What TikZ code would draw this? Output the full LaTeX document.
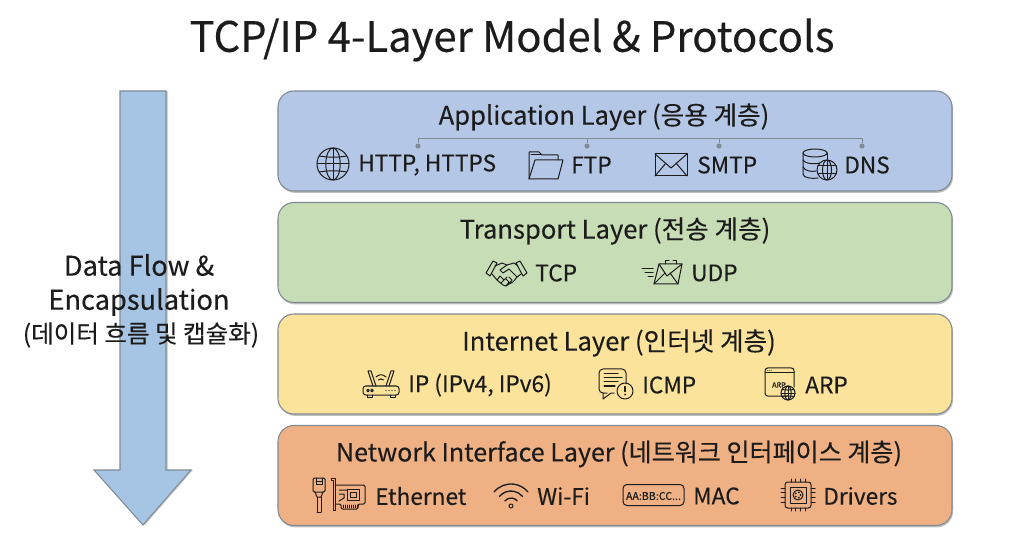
\documentclass[tikz,border=0pt]{standalone}
\usepackage{fontspec}
\setmainfont{Noto Sans CJK KR}[FakeBold=0.25]
\usetikzlibrary{shadows}
\definecolor{appcol}{HTML}{B5C7E6}
\definecolor{tracol}{HTML}{C6DDB5}
\definecolor{intcol}{HTML}{FCE39B}
\definecolor{netcol}{HTML}{EFB084}
\definecolor{flowcol}{HTML}{A6C5E5}
\definecolor{ink}{HTML}{1C1C1C}
\definecolor{rim}{HTML}{7F8A94}
\tikzset{
  layer/.style  = {rectangle, draw=rim, line width=0.8pt, rounded corners=12pt, minimum width=505.5pt, minimum height=75pt, drop shadow={shadow xshift=0.8pt, shadow yshift=-1.4pt, opacity=0.5}},
  lname/.style  = {font=\fontsize{19.2}{24}\selectfont, text=ink, inner sep=0},
  proto/.style  = {font=\fontsize{17}{21}\selectfont, text=ink, anchor=west, inner sep=0},
  flow/.style   = {font=\fontsize{20.4}{24}\selectfont, text=ink, inner sep=0},
  flowkr/.style = {font=\fontsize{18.4}{22}\selectfont, text=ink, inner sep=0},
  bus/.style    = {draw=rim, line width=0.7pt},
  tap/.style    = {circle, fill=rim, minimum size=3.8pt, inner sep=0},
  ico/.style    = {draw=ink, line width=0.75pt, line join=round, line cap=round},
  tiny/.style   = {font=\fontsize{5.5}{6}\selectfont, text=ink, inner sep=0},
  globe/.pic = {
    \draw[ico] (0,0) circle[radius=#1];
    \draw[ico] (0,0) ellipse[x radius=0.45*#1, y radius=#1];
    \draw[ico] (0,-#1) -- (0,#1) (-#1,0) -- (#1,0);
    \draw[ico] (-0.85*#1,-0.5*#1) .. controls (-0.3*#1,-0.4*#1) and (0.3*#1,-0.4*#1) .. (0.85*#1,-0.5*#1);
    \draw[ico] (-0.85*#1,0.5*#1) .. controls (-0.3*#1,0.4*#1) and (0.3*#1,0.4*#1) .. (0.85*#1,0.5*#1);
  },
  folder/.pic = {
    \draw[ico] (-17,14) -- (-17,-13) -- (-7,-13) -- (-4,-10) -- (12,-10) -- (12,-5);
    \draw[ico] (-15,-10) -- (-5,-10);
    \draw[ico] (-17,14) -- (-11,-5) -- (17,-5) -- (12,14) -- cycle;
  },
  mail/.pic = {
    \draw[ico] (-16,-11) rectangle (16,11);
    \draw[ico] (-16,-11) -- (0,3) -- (16,-11) (-16,11) -- (-5,-2) (16,11) -- (5,-2);
  },
  dbase/.pic = {
    \draw[ico] (-5,-11) ellipse[x radius=12, y radius=4];
    \draw[ico] (-17,-11) -- (-17,10) .. controls (-17,14) and (-8,15) .. (-2,14);
    \draw[ico] (7,-11) -- (7,-3);
    \draw[ico] (-17,-4) .. controls (-15,0) and (-4,1) .. (3,-2);
    \draw[ico] (-17,3) .. controls (-15,7) and (-9,8) .. (-4,7);
    \draw[ico, fill=appcol] (7,6) circle[radius=10];
    \draw[ico] (7,6) ellipse[x radius=4.5, y radius=10];
    \draw[ico] (-2,2) -- (16,2) (-2,10) -- (16,10) (7,-4) -- (7,16);
  },
  shake/.pic = {
    \draw[ico] (-20,0) -- (-13,-12) -- (-9,-10) -- (-16,3) -- cycle;
    \draw[ico] (21,0) -- (14,-12) -- (10,-10) -- (17,3) -- cycle;
    \draw[ico] (-11,-7) -- (-4,-10) -- (1,-8) -- (8,-10) -- (12,-7);
    \draw[ico] (1,-8) -- (-6,-3) -- (-3,0) -- (3,-4) -- (11,4);
    \draw[ico] (-14,1) -- (-9,7) -- (-3,12) -- (0,13) -- (3,11) -- (7,9) -- (11,4) -- (15,1);
    \draw[ico] (-9,7) -- (-6,3) -- (-2,7) -- (-5,10) (-2,7) -- (1,4) (0,13) -- (3,9) -- (0,6) (3,11) -- (6,7) -- (3,4);
  },
  fastmail/.pic = {
    \draw[ico] (-3,-9) -- (20,-9) -- (16,11) -- (-8,11) -- cycle;
    \draw[ico] (-3,-9) -- (5,3) -- (20,-9) (-8,11) -- (3,0) (16,11) -- (8,0);
    \draw[ico] (3,-9) -- (3,-12) -- (7,-12) (11,-12) -- (14,-12) -- (14,-9);
    \draw[ico] (-20,-4) -- (-9,-4) (-17,0) -- (-9,0) (-14,4) -- (-9,4);
  },
  router/.pic = {
    \draw[ico, rounded corners=2pt] (-18,2) rectangle (18,11);
    \draw[ico] (-8,2) -- (-13,-13) -- (-10,-13) -- (-5,2) (8,2) -- (13,-13) -- (10,-13) -- (5,2);
    \draw[ico] (-5,-7) .. controls (-2,-10) and (2,-10) .. (5,-7);
    \draw[ico] (-2.5,-4) .. controls (-1,-5.5) and (1,-5.5) .. (2.5,-4);
    \draw[ico] (-14,11) -- (-14,13) -- (-9,13) -- (-9,11) (9,11) -- (9,13) -- (14,13) -- (14,11);
    \foreach \dx in {-13,-9} \draw[ico] (\dx,6.5) circle[radius=1.3];
    \foreach \dx in {5,8,11,14} \fill[ink] (\dx,6.5) circle[radius=0.7];
  },
  chat/.pic = {
    \draw[ico, rounded corners=3pt] (-9,9) -- (-17,9) -- (-17,-15) -- (10,-15) -- (10,0);
    \draw[ico] (-13,9) -- (-13,15) -- (-5,9) -- (-2,9);
    \draw[ico] (-12,-10) -- (2,-10) (-12,-6) -- (6,-6) (-12,-2) -- (2,-2) (-12,2) -- (-1,2);
    \draw[ico] (9,7) circle[radius=8];
    \draw[ico, line width=1.1pt] (9,2.5) -- (9,7.5);
    \fill[ink] (9,10.5) circle[radius=1];
  },
  arpwin/.pic = {
    \draw[ico, rounded corners=2pt] (6,12) -- (-16,12) -- (-16,-16) -- (13,-16) -- (13,3);
    \draw[ico] (-16,-11) -- (13,-11);
    \foreach \dx in {-14,-12,-10} \fill[ink] (\dx,-13.5) circle[radius=0.5];
    \node[tiny] (arptag) at (-2,1) {ARP};
    \pic at (7,9) {globe=7};
  },
  plug/.pic = {
    \draw[ico, rounded corners=1pt] (-7,-17) rectangle (5,-3);
    \draw[ico] (-4,-17) -- (-4,-11) -- (2,-11) -- (2,-17) (-4,-14) -- (2,-14);
    \draw[ico] (-5,-3) -- (-3,2) -- (1,2) -- (3,-3);
    \draw[ico] (-3,2) -- (-3,17) (1,2) -- (1,17) (-3,17) -- (1,17);
  },
  card/.pic = {
    \draw[ico] (-17,-16) -- (-13,-16) -- (-13,16) -- (-15,16) -- (-15,-14) -- (-17,-14) -- cycle;
    \draw[ico, rounded corners=1pt] (-13,-9) -- (17,-9) -- (17,10) -- (10,10) -- (10,15) -- (-7,15) -- (-7,10) -- (-13,10);
    \draw[ico] (-1,-5) rectangle (11,6) (2,-2) rectangle (8,3);
    \draw[ico] (-9,-4) -- (-1,-4) (-9,0) -- (-4,0) -- (-4,4) -- (-9,7);
    \foreach \dx in {-5,-3,...,9} \draw[ico, line width=0.4pt] (\dx,11) -- (\dx,14);
  },
  wifi/.pic = {
    \foreach \r in {8,15,22} \draw[ico, line width=1pt] (0,11) ++(-140:\r) arc[start angle=-140, end angle=-40, radius=\r];
    \draw[ico] (0,11) circle[radius=2];
  },
  macbox/.pic = {
    \draw[ico, rounded corners=3pt] (-30,-10) rectangle (31,11);
    \node[tiny, font=\fontsize{8}{9}\selectfont] (mactag) at (0.5,1.5) {AA:BB:CC...};
  },
  chip/.pic = {
    \draw[ico, rounded corners=2pt] (-13,-13) rectangle (13,13);
    \draw[ico] (-8,-8) rectangle (8,8);
    \foreach \d in {-7,-2.5,2.5,7} {
      \draw[ico] (\d,-13) -- (\d,-16) (\d,13) -- (\d,16) (-13,\d) -- (-17,\d) (13,\d) -- (17,\d);
    }
    \draw[ico] (0,0) circle[radius=5];
    \foreach \a in {0,72,...,288} \fill[ink] (\a:2.7) circle[radius=1];
  }
}

\begin{document}
\begin{tikzpicture}[x=0.75pt,y=-0.75pt]

  \useasboundingbox (0,0) rectangle (1024,559);

  \node[font=\fontsize{31.4}{36}\selectfont, text=ink, inner sep=0] (title) at (512,40) {TCP/IP 4-Layer Model \& Protocols};

  \draw[draw=rim, line width=0.8pt, fill=flowcol, drop shadow={shadow xshift=1.6pt, shadow yshift=0pt, opacity=0.35}]
    (120,91) -- (166,91) -- (166,470) -- (191,470) -- (143,525) -- (94,470) -- (120,470) -- cycle;
  \node[flow]   (flow1) at (139,265) {Data Flow \&};
  \node[flow]   (flow2) at (139,302) {Encapsulation};
  \node[flowkr] (flow3) at (141,335) {(데이터 흐름 및 캡슐화)};

  \node[layer, fill=appcol] (app) at (615,141) {};
  \node[layer, fill=tracol] (tra) at (615,252.5) {};
  \node[layer, fill=intcol] (int) at (615,364) {};
  \node[layer, fill=netcol] (net) at (615,475.5) {};

  \node[lname] (appname) at (604,117) {Application Layer (응용 계층)};
  \node[lname] (traname) at (615,231) {Transport Layer (전송 계층)};
  \node[lname] (intname) at (619,343) {Internet Layer (인터넷 계층)};
  \node[lname, font=\fontsize{18.8}{24}\selectfont] (netname) at (619,454) {Network Interface Layer (네트워크 인터페이스 계층)};

  \node[tap] (thttp) at (418,146) {};
  \node[tap] (tftp)  at (587,146) {};
  \node[tap] (tsmtp) at (719,146) {};
  \node[tap] (tdns)  at (862,146) {};
  \coordinate (busl) at (418,138);
  \coordinate (busr) at (862,138);
  \draw[bus] (thttp) -- (busl) -- (busr) -- (tdns);
  \draw[bus] (tftp) -- (tftp |- busl);
  \draw[bus] (tsmtp) -- (tsmtp |- busl);

  \pic at (333,164) {globe=16};     \node[proto] (http) at (358,165) {HTTP, HTTPS};
  \pic at (546,165) {folder};       \node[proto] (ftp)  at (571,165) {FTP};
  \pic at (671,165) {mail};         \node[proto] (smtp) at (697,165) {SMTP};
  \pic at (820,164) {dbase};        \node[proto] (dns)  at (844,165) {DNS};

  \pic at (506,273) {shake};        \node[proto] (tcp)  at (535,273) {TCP};
  \pic at (662,273) {fastmail};     \node[proto] (udp)  at (691,273) {UDP};

  \pic at (381,384) {router};       \node[proto] (ip)   at (408,385) {IP (IPv4, IPv6)};
  \pic at (616,384) {chat};         \node[proto] (icmp) at (642,385) {ICMP};
  \pic at (781,384) {arpwin};       \node[proto] (arp)  at (805,385) {ARP};

  \pic at (320,495) {plug};
  \pic at (348,494) {card};         \node[proto] (eth)  at (375,496) {Ethernet};
  \pic at (511,495) {wifi};         \node[proto] (wlan) at (537,496) {Wi-Fi};
  \pic at (653,494.5) {macbox};     \node[proto] (mac)  at (693,496) {MAC};
  \pic at (798,495) {chip};         \node[proto] (drv)  at (823,496) {Drivers};

\end{tikzpicture}
\end{document}
